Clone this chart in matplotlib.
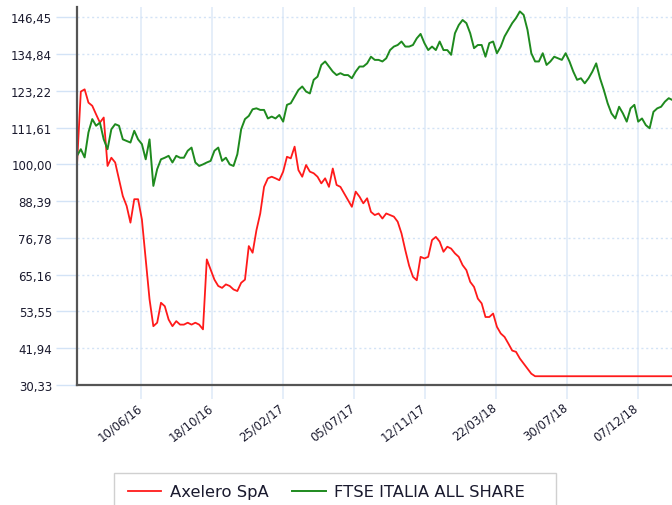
"""
Grafico Axelero SpA vs FTSE ITALIA ALL SHARE (base 100).
"""

import matplotlib
matplotlib.use("Agg")
import matplotlib.pyplot as plt
import matplotlib.dates as mdates
import matplotlib.transforms as mtransforms
from matplotlib.patches import Rectangle
from matplotlib.ticker import FixedLocator, FuncFormatter
import pandas as pd

# Dati (settimanali)
start_date = "2016-02-13"
n_weeks = 157

axelero = [
    100.0, 123.0, 123.7, 119.5, 118.5, 115.8, 113.2, 114.8, 99.5, 102.1,
    100.6, 95.3, 90.0, 86.9, 81.6, 89.0, 89.0, 82.6, 70.0, 57.4,
    48.9, 50.0, 56.3, 55.2, 51.0, 48.9, 50.5, 49.4, 49.4, 50.0,
    49.4, 50.0, 49.4, 47.9, 70.0, 66.8, 63.6, 61.6, 61.0, 62.1,
    61.6, 60.5, 60.0, 62.6, 63.6, 74.2, 72.1, 79.2, 84.5, 92.9,
    95.6, 96.1, 95.6, 95.0, 97.7, 102.4, 101.9, 105.6, 98.2, 96.1,
    99.8, 97.7, 97.2, 96.1, 94.0, 95.6, 92.9, 98.7, 93.5, 92.9,
    90.8, 88.7, 86.6, 91.4, 89.8, 87.7, 89.3, 85.0, 84.0, 84.5,
    82.9, 84.5, 84.0, 83.5, 81.9, 78.2, 72.9, 68.0, 64.5, 63.4,
    70.8, 70.3, 70.8, 76.1, 77.1, 75.6, 72.4, 74.0, 73.4, 71.9,
    70.8, 68.2, 66.6, 62.9, 61.3, 57.6, 56.1, 51.8, 51.8, 52.9,
    48.7, 46.6, 45.5, 43.4, 41.2, 40.8, 38.7, 37.1, 35.5, 33.9,
    33.1, 33.1, 33.1, 33.1, 33.1, 33.1, 33.1, 33.1, 33.1, 33.1,
    33.1, 33.1, 33.1, 33.1, 33.1, 33.1, 33.1, 33.1, 33.1, 33.1,
    33.1, 33.1, 33.1, 33.1, 33.1, 33.1, 33.1, 33.1, 33.1, 33.1,
    33.1, 33.1, 33.1, 33.1, 33.1, 33.1, 33.1,
]

ftse = [
    102.7, 104.8, 102.2, 110.1, 114.3, 112.2, 113.2, 107.9, 104.8, 111.1,
    112.7, 112.2, 107.9, 107.4, 106.9, 110.6, 107.9, 106.4, 101.6, 107.9,
    93.2, 98.5, 101.6, 102.1, 102.7, 100.6, 102.7, 102.1, 102.1, 104.3,
    105.3, 100.6, 99.5, 100.0, 100.6, 101.1, 104.3, 105.3, 101.1, 102.1,
    100.0, 99.5, 103.2, 111.1, 114.3, 115.3, 117.4, 117.7, 117.2, 117.2,
    114.5, 115.1, 114.5, 115.6, 113.5, 118.8, 119.3, 121.4, 123.5, 124.6,
    123.0, 122.4, 126.7, 127.7, 131.4, 132.5, 130.9, 129.3, 128.2, 128.8,
    128.2, 128.2, 127.2, 129.3, 130.9, 130.9, 131.9, 134.0, 133.0, 133.0,
    132.5, 133.5, 136.1, 137.2, 137.7, 138.8, 137.2, 137.2, 137.7, 139.8,
    141.2, 138.3, 136.1, 137.2, 136.1, 138.8, 136.1, 136.1, 134.6, 141.4,
    144.0, 145.6, 144.6, 141.4, 136.7, 137.7, 137.7, 134.0, 138.3, 138.8,
    135.1, 137.2, 140.4, 142.5, 144.6, 146.2, 148.3, 147.2, 142.5, 135.1,
    132.5, 132.5, 135.1, 131.4, 132.5, 134.0, 133.5, 133.0, 135.1, 132.5,
    129.3, 126.7, 127.2, 125.6, 127.2, 129.3, 131.9, 127.2, 123.5, 119.3,
    116.1, 114.5, 118.2, 116.1, 113.5, 117.7, 118.8, 113.5, 114.5, 112.4,
    111.4, 116.6, 117.7, 118.2, 119.8, 120.9, 120.3,
]

tick_dates = ["2016-06-10", "2016-10-18", "2017-02-25", "2017-07-05",
              "2017-11-12", "2018-03-22", "2018-07-30", "2018-12-07"]
y_ticks = [30.33, 41.94, 53.55, 65.16, 76.78, 88.39, 100.00,
           111.61, 123.22, 134.84, 146.45]

dates = pd.date_range(start_date, periods=n_weeks, freq="7D")

# Figura
fig = plt.figure(figsize=(6.72, 5.06), dpi=100)
ax = fig.add_axes([77 / 672, 1 - 386 / 506, 1 - 77 / 672, 378 / 506])

ax.plot(dates, axelero, color="#ff1a1a", lw=1.3, label="Axelero SpA")
ax.plot(dates, ftse, color="#1e8a1e", lw=1.4, label="FTSE ITALIA ALL SHARE")

ax.set_xlim(pd.Timestamp("2016-02-13"), pd.Timestamp("2019-02-08"))
ax.set_ylim(30.33, 149.7)

# Assi e griglia
grid_col = "#d3e3f6"
ax.yaxis.set_major_locator(FixedLocator(y_ticks))
ax.yaxis.set_major_formatter(FuncFormatter(lambda v, p: f"{v:.2f}".replace(".", ",")))
ax.xaxis.set_major_locator(FixedLocator([mdates.date2num(pd.Timestamp(d)) for d in tick_dates]))
ax.xaxis.set_major_formatter(mdates.DateFormatter("%d/%m/%y"))

ax.grid(axis="y", color=grid_col, lw=1, linestyle=(0, (1.5, 2)))
ax.grid(axis="x", color="#e0ebf8", lw=1.2, linestyle="-")
ax.set_axisbelow(True)

ax.tick_params(axis="y", length=15, width=1, color=grid_col, pad=3,
               labelsize=8.5, labelcolor="#1a1a2e")
ax.tick_params(axis="x", length=10, width=1.2, color="#e0ebf8", pad=1,
               labelsize=8.4, labelcolor="#1a1a2e")
shift = mtransforms.ScaledTranslation(-5 / 100, 0, fig.dpi_scale_trans)
for lbl in ax.get_xticklabels():
    lbl.set_rotation(38)
    lbl.set_ha("right")
    lbl.set_rotation_mode("anchor")
    lbl.set_transform(lbl.get_transform() + shift)

for s in ["top", "right"]:
    ax.spines[s].set_visible(False)
for s in ["left", "bottom"]:
    ax.spines[s].set_color("#555555")
    ax.spines[s].set_linewidth(1.6)

# Legenda
fig.patches.append(Rectangle((114 / 672, -0.02), (556 - 114) / 672, (506 - 474) / 506 + 0.02,
                             transform=fig.transFigure, fill=False,
                             edgecolor="#d0d0d0", lw=1))
fig.legend(loc="center left", bbox_to_anchor=(113 / 672, 1 - 493 / 506),
           ncol=2, frameon=False, fontsize=11.8, handlelength=2.05,
           handletextpad=0.5, columnspacing=1.45, labelcolor="#1a1a2e")

fig.savefig("out.png", dpi=100)
